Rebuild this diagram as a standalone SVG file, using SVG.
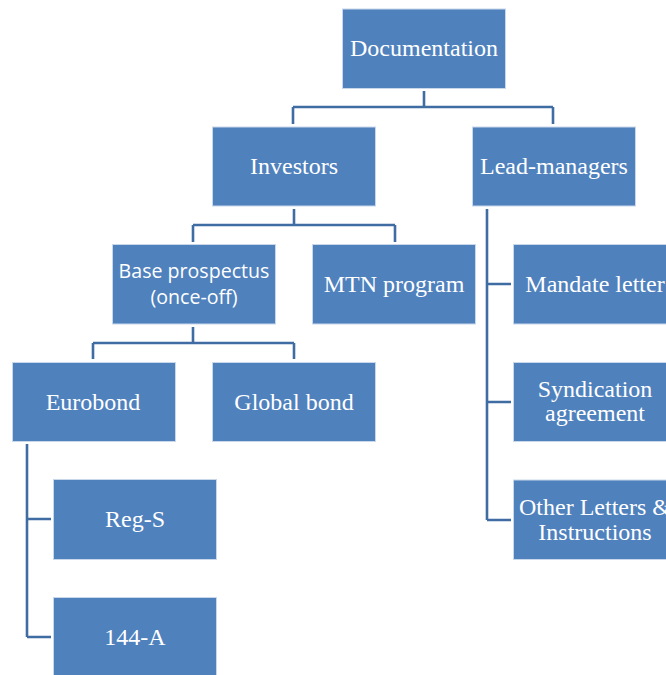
<svg xmlns="http://www.w3.org/2000/svg" width="666" height="675" viewBox="0 0 666 675">
<style>
.box{fill:#4F81BD;stroke:#c9d7ea;stroke-width:1}
.t{font-family:"Liberation Serif","Times New Roman",serif;font-size:24px;fill:#ffffff;text-anchor:middle}
.s{font-family:"Open Sans","Noto Sans",sans-serif;font-size:19.6px;fill:#ffffff;text-anchor:middle}
.c{fill:none;stroke:#3e6ca3;stroke-width:2.6}
</style>
<rect width="666" height="675" fill="#ffffff"/>
<g id="connectors">
<path class="c" d="M424,91V107M293,107H553M293,107V124M553,107V124"/>
<path class="c" d="M294,209V225M193,225H395M193,225V242M395,225V242"/>
<path class="c" d="M193,327V343M93,343H294M93,343V359M294,343V359"/>
<path class="c" d="M27,444V637M27,519H51M27,637H51"/>
<path class="c" d="M487,209V520M487,284H511M487,402H511M487,520H511"/>
</g>
<g id="documentation"><rect class="box" x="342.5" y="9" width="163" height="79.5"/><text class="t" x="424" y="56">Documentation</text></g>
<g id="investors"><rect class="box" x="212.5" y="127" width="163" height="79"/><text class="t" x="294" y="174">Investors</text></g>
<g id="lead-managers"><rect class="box" x="472.5" y="127" width="163" height="79"/><text class="t" x="554" y="174">Lead-managers</text></g>
<g id="base-prospectus"><rect class="box" x="112.5" y="244.5" width="163" height="79.5"/><text class="s" x="194" y="278">Base prospectus</text><text class="s" x="194" y="304">(once-off)</text></g>
<g id="mtn-program"><rect class="box" x="312.5" y="244.5" width="163" height="79.5"/><text class="t" x="394" y="292">MTN program</text></g>
<g id="eurobond"><rect class="box" x="12.5" y="362.5" width="163" height="79"/><text class="t" x="93" y="409.5">Eurobond</text></g>
<g id="global-bond"><rect class="box" x="212.5" y="362.5" width="163" height="79"/><text class="t" x="294" y="409.5">Global bond</text></g>
<g id="reg-s"><rect class="box" x="53.5" y="479.5" width="163" height="80"/><text class="t" x="135" y="527">Reg-S</text></g>
<g id="144-a"><rect class="box" x="53.5" y="597.5" width="163" height="80"/><text class="t" x="135" y="645">144-A</text></g>
<g id="mandate-letter"><rect class="box" x="513.5" y="244.5" width="163" height="79.5"/><text class="t" x="595" y="292">Mandate letter</text></g>
<g id="syndication-agreement"><rect class="box" x="513.5" y="362.5" width="163" height="79"/><text class="t" x="595" y="397">Syndication</text><text class="t" x="595" y="421">agreement</text></g>
<g id="other-letters"><rect class="box" x="513.5" y="480" width="163" height="79.5"/><text class="t" x="595" y="515">Other Letters &amp;</text><text class="t" x="595" y="539.5">Instructions</text></g>
</svg>
